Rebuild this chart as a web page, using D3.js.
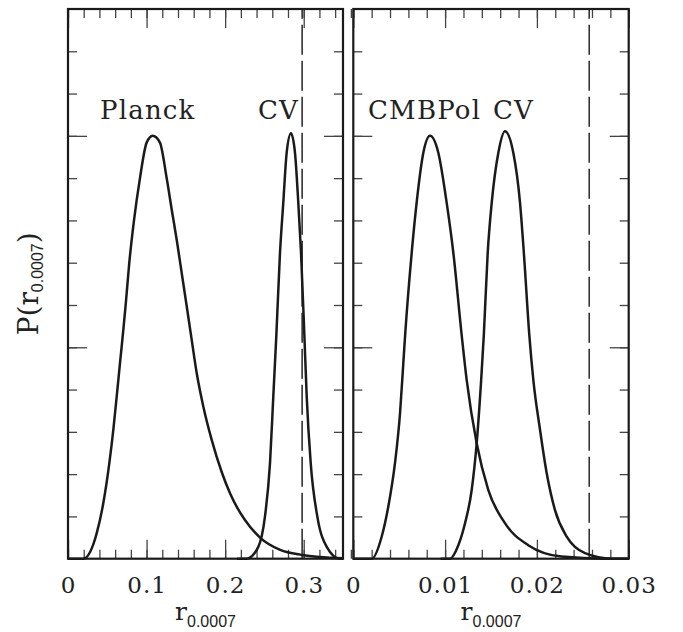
<!DOCTYPE html>
<html>
<head>
<meta charset="utf-8">
<script src="https://cdn.jsdelivr.net/npm/d3@7"></script>
<style>
  body { margin: 0; background: #fff; }
  svg { display: block; }
</style>
</head>
<body>
<svg width="683" height="632"></svg>
<script>
// r_0.0007 posteriors (peak normalised to ~1)
const planckLeft = [
  [0.0, 0], [0.0195, 0], [0.0365, 0.060], [0.0449, 0.131], [0.0526, 0.226], [0.0577, 0.305],
  [0.062, 0.384], [0.0662, 0.463], [0.0704, 0.541], [0.0734, 0.60], [0.078, 0.70],
  [0.084, 0.80], [0.0916, 0.90], [0.1001, 0.984], [0.1078, 1.0], [0.117, 0.984],
  [0.1256, 0.90], [0.1325, 0.82], [0.1383, 0.755], [0.1447, 0.676], [0.1511, 0.597],
  [0.1574, 0.518], [0.1638, 0.439], [0.1722, 0.360], [0.1829, 0.281], [0.1956, 0.205],
  [0.2062, 0.155], [0.215, 0.122], [0.225, 0.092], [0.2444, 0.050], [0.27, 0.021],
  [0.298, 0.009], [0.32, 0.004], [0.35, 0.001]
];
const cvLeft = [
  [0.215, 0], [0.2274, 0], [0.2422, 0.028], [0.2507, 0.10], [0.2571, 0.226], [0.2613, 0.384],
  [0.2652, 0.53], [0.2698, 0.723], [0.274, 0.842], [0.2783, 0.96], [0.2838, 1.006],
  [0.2889, 0.96], [0.2931, 0.842], [0.2966, 0.723], [0.3008, 0.53], [0.3038, 0.384],
  [0.3089, 0.226], [0.3173, 0.10], [0.3293, 0.028], [0.346, 0], [0.35, 0]
];
const cmbpolRight = [
  [0.0, 0], [0.002, 0], [0.00309, 0.052], [0.00381, 0.123], [0.00454, 0.226], [0.00509, 0.344],
  [0.00545, 0.463], [0.00565, 0.53], [0.00636, 0.723], [0.0069, 0.842], [0.00763, 0.96],
  [0.00836, 1.0], [0.00926, 0.96], [0.01017, 0.842], [0.0109, 0.723], [0.0118, 0.53],
  [0.01235, 0.423], [0.01344, 0.273], [0.0147, 0.163], [0.01652, 0.084], [0.01906, 0.032],
  [0.0227, 0.005], [0.0274, 0], [0.03, 0]
];
const cvRight = [
  [0.0095, 0], [0.01053, 0], [0.01144, 0.032], [0.01217, 0.084], [0.0129, 0.163], [0.01344, 0.273],
  [0.01393, 0.423], [0.01422, 0.53], [0.01464, 0.723], [0.01508, 0.842], [0.0158, 0.96],
  [0.01652, 1.011], [0.01743, 0.96], [0.01816, 0.842], [0.01858, 0.723], [0.01917, 0.53],
  [0.01961, 0.423], [0.02034, 0.305], [0.02107, 0.202], [0.02197, 0.115], [0.02325, 0.052],
  [0.02524, 0.013], [0.02815, 0], [0.03, 0]
];

const leftDomain = [0, 0.35];
const rightDomain = [0, 0.03];
const yDomain = [0, 1.3];
const leftTickLabels = [0, 0.1, 0.2, 0.3];
const rightTickLabels = [0, 0.01, 0.02, 0.03];
const leftMinorStep = 0.02, rightMinorStep = 0.002;
const yMinorTicks = d3.range(1, 13).map(i => i / 10);
const yMajorTicks = [0.5, 1.0];
const leftDashed = 0.298;
const rightDashed = 0.0257;

const SERIF = "'DejaVu Serif', 'Liberation Serif', serif";
const SANS = "'Liberation Sans', 'DejaVu Sans', sans-serif";
const INK = "#1a1a1a";

const svg = d3.select("svg");
const plotTop = 9, plotBottom = 558.7;
const y = d3.scaleLinear().domain(yDomain).range([plotBottom, plotTop]);

function drawPanel(x0, x1, domain, minorStep, majorTicks, tickLabels, curves, dashed, labels) {
    const x = d3.scaleLinear().domain(domain).range([x0, x1]);
    const g = svg.append("g");

    const minorX = d3.range(0, Math.round((domain[1] - domain[0]) / minorStep) + 1).map(i => i * minorStep);

    // ticks on all four sides, pointing inward
    const tick = (axisFn, scale, values, size, tx, ty) => {
        const a = g.append("g")
            .attr("transform", `translate(${tx},${ty})`)
            .call(axisFn(scale).tickValues(values).tickSize(-size).tickSizeOuter(0).tickFormat(""));
        a.select(".domain").remove();
        a.selectAll(".tick line").attr("stroke", "#444").attr("stroke-width", 1.3);
    };
    tick(d3.axisBottom, x, minorX, 9, 0, plotBottom);
    tick(d3.axisBottom, x, majorTicks, 19, 0, plotBottom);
    tick(d3.axisTop, x, minorX, 9, 0, plotTop);
    tick(d3.axisTop, x, majorTicks, 19, 0, plotTop);
    tick(d3.axisLeft, y, yMinorTicks, 9, x0, 0);
    tick(d3.axisLeft, y, yMajorTicks, 19, x0, 0);
    tick(d3.axisRight, y, yMinorTicks, 9, x1, 0);
    tick(d3.axisRight, y, yMajorTicks, 19, x1, 0);

    // tick labels
    const lab = g.append("g")
        .attr("transform", `translate(0,${plotBottom})`)
        .call(d3.axisBottom(x).tickValues(tickLabels).tickSize(0).tickPadding(18)
            .tickFormat(d => d === 0 ? "0" : String(d)));
    lab.select(".domain").remove();
    lab.selectAll("text")
        .attr("font-family", SERIF)
        .attr("font-size", 23)
        .attr("letter-spacing", 1)
        .attr("fill", "#222");

    // dashed upper limit
    g.append("line")
        .attr("x1", x(dashed)).attr("x2", x(dashed))
        .attr("y1", y(0)).attr("y2", y(yDomain[1]))
        .attr("stroke", "#333")
        .attr("stroke-width", 1.6)
        .attr("stroke-dasharray", "30,6");

    // curves
    const line = d3.line()
        .x(d => x(d[0]))
        .y(d => y(d[1]))
        .curve(d3.curveMonotoneX);
    g.selectAll(".curve")
        .data(curves)
        .join("path")
        .attr("class", "curve")
        .attr("d", line)
        .attr("fill", "none")
        .attr("stroke", INK)
        .attr("stroke-width", 2.5);

    // frame
    g.append("rect")
        .attr("x", x0).attr("y", plotTop)
        .attr("width", x1 - x0).attr("height", plotBottom - plotTop)
        .attr("fill", "none")
        .attr("stroke", INK)
        .attr("stroke-width", 2.2);

    // curve labels
    labels.forEach(l => {
        g.append("text")
            .attr("x", l.x).attr("y", 119)
            .attr("font-family", SERIF)
            .attr("font-size", 26)
            .attr("letter-spacing", 1.2)
            .attr("fill", "#222")
            .text(l.text);
    });

    // x axis title r_0.0007
    const t = g.append("text")
        .attr("x", (x0 + x1) / 2)
        .attr("y", 620)
        .attr("text-anchor", "middle")
        .attr("fill", "#222");
    t.append("tspan").attr("font-family", SERIF).attr("font-size", 25).text("r");
    t.append("tspan").attr("font-family", SANS).attr("font-size", 16).attr("dy", 7).text("0.0007");
}

drawPanel(68, 343, leftDomain, leftMinorStep, leftTickLabels, leftTickLabels,
    [planckLeft, cvLeft], leftDashed,
    [{ text: "Planck", x: 100 }, { text: "CV", x: 258 }]);

drawPanel(353.3, 628.7, rightDomain, rightMinorStep, rightTickLabels, rightTickLabels,
    [cmbpolRight, cvRight], rightDashed,
    [{ text: "CMBPol", x: 368 }, { text: "CV", x: 493 }]);

// y axis title P(r_0.0007)
const yt = svg.append("text")
    .attr("transform", `translate(38,${(plotTop + plotBottom) / 2}) rotate(-90)`)
    .attr("text-anchor", "middle")
    .attr("fill", "#222");
yt.append("tspan").attr("font-family", SERIF).attr("font-size", 28).text("P(r");
yt.append("tspan").attr("font-family", SANS).attr("font-size", 16).attr("dy", 5).text("0.0007");
yt.append("tspan").attr("font-family", SERIF).attr("font-size", 28).attr("dy", -5).text(")");
</script>
</body>
</html>
